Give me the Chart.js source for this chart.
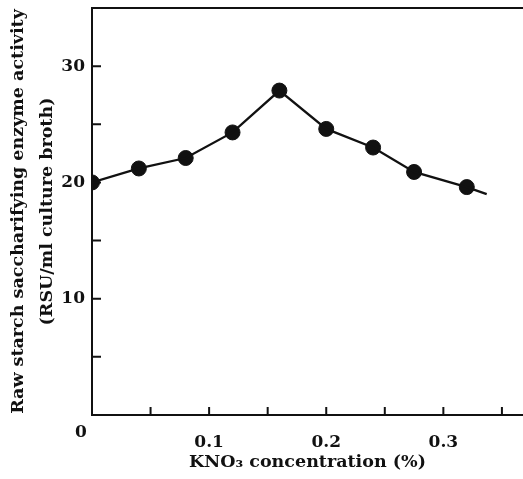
<!DOCTYPE html>
<html>
<head>
<meta charset="utf-8">
<script src="https://cdn.jsdelivr.net/npm/chart.js@4.4.1/dist/chart.umd.min.js"></script>
<style>
  html, body { margin: 0; padding: 0; background: #fff; }
  #wrap { width: 523px; height: 479px; }
</style>
</head>
<body>
<div id="wrap"><canvas id="grafico" width="523" height="479"></canvas></div>
<script>
// valores
const concentracao = [0, 0.04, 0.08, 0.12, 0.16, 0.20, 0.24, 0.275, 0.32];
const atividade = [20.0, 21.2, 22.1, 24.3, 27.9, 24.6, 23.0, 20.9, 19.6];
// a curva continua um pouco depois do último ponto
const curvaFimX = 0.337;
const curvaFimY = 19.0;
const rotulosX = [0.1, 0.2, 0.3];
const rotulosY = [10, 20, 30];
// marcas curtas no eixo (para dentro)
const marcasX = [0.05, 0.1, 0.15, 0.2, 0.25, 0.3, 0.35];
const marcasY = [5, 10, 15, 20, 25, 30];

const TINTA = '#111';
const FONTE = '"DejaVu Serif", "Liberation Serif", serif';

const pontos = concentracao.map((x, i) => ({ x: x, y: atividade[i] }));
const curva = pontos.concat([{ x: curvaFimX, y: curvaFimY }]);

function perto(v, lista) {
    return lista.some(a => Math.abs(v - a) < 1e-6);
}

// marcas de escala para dentro, linha de cima e o "0" da origem
const marcasInternas = {
    id: 'marcasInternas',
    afterDraw(chart) {
        const { ctx, chartArea, scales } = chart;
        const sx = scales.x, sy = scales.y;
        ctx.save();
        ctx.strokeStyle = TINTA;
        ctx.lineWidth = 2;
        ctx.beginPath();
        marcasX.forEach(v => {
            const px = sx.getPixelForValue(v);
            ctx.moveTo(px, chartArea.bottom);
            ctx.lineTo(px, chartArea.bottom - 8);
        });
        marcasY.forEach(v => {
            const py = sy.getPixelForValue(v);
            ctx.moveTo(chartArea.left, py);
            ctx.lineTo(chartArea.left + 9, py);
        });
        ctx.moveTo(chartArea.left - 1, chartArea.top);
        ctx.lineTo(chartArea.right, chartArea.top);
        ctx.stroke();

        ctx.fillStyle = TINTA;
        ctx.font = 'bold 17px ' + FONTE;
        ctx.textAlign = 'center';
        ctx.textBaseline = 'middle';
        ctx.fillText('0', sx.getPixelForValue(0) - 11, sy.getPixelForValue(0) + 18);
        ctx.restore();
    }
};

new Chart(document.getElementById('grafico').getContext('2d'), {
    type: 'scatter',
    data: {
        datasets: [
            {
                label: 'curva',
                data: curva,
                showLine: true,
                borderColor: TINTA,
                borderWidth: 2.3,
                pointRadius: 0,
                tension: 0
            },
            {
                label: 'atividade',
                data: pontos,
                backgroundColor: TINTA,
                borderColor: TINTA,
                borderWidth: 1,
                pointRadius: 7.5
            }
        ]
    },
    options: {
        responsive: false,
        animation: false,
        layout: { autoPadding: false, padding: { top: 8, right: 0, left: 0, bottom: 0 } },
        plugins: {
            legend: { display: false },
            tooltip: { enabled: false }
        },
        scales: {
            x: {
                type: 'linear',
                position: 'bottom',
                min: 0,
                max: 0.368,
                afterFit(scale) {
                    scale.height = 64;
                    scale.paddingLeft = 0;
                    scale.paddingRight = 0;
                },
                grid: { display: false, drawTicks: false },
                border: { color: TINTA, width: 2 },
                ticks: {
                    stepSize: 0.05,
                    autoSkip: false,
                    maxRotation: 0,
                    padding: 17,
                    color: TINTA,
                    font: { family: FONTE, size: 17, weight: 'bold' },
                    callback: v => perto(v, rotulosX) ? v.toFixed(1) : null
                },
                title: {
                    display: true,
                    text: 'KNO\u2083 concentration (%)',
                    color: TINTA,
                    font: { family: FONTE, size: 17.5, weight: 'bold' },
                    padding: { top: 0, bottom: 6 }
                }
            },
            y: {
                min: 0,
                max: 35,
                afterFit(scale) {
                    scale.width = 92;
                    scale.paddingTop = 0;
                    scale.paddingBottom = 0;
                },
                grid: { display: false, drawTicks: false },
                border: { color: TINTA, width: 2 },
                ticks: {
                    stepSize: 5,
                    autoSkip: false,
                    padding: 7,
                    color: TINTA,
                    font: { family: FONTE, size: 17, weight: 'bold' },
                    callback: v => perto(v, rotulosY) ? String(v) : null
                },
                title: {
                    display: true,
                    text: ['Raw starch saccharifying enzyme activity', '(RSU/ml culture broth)'],
                    color: TINTA,
                    font: { family: FONTE, size: 17.5, weight: 'bold', lineHeight: 1.71 },
                    padding: { top: 3, bottom: 0 }
                }
            }
        }
    },
    plugins: [marcasInternas]
});
</script>
</body>
</html>
